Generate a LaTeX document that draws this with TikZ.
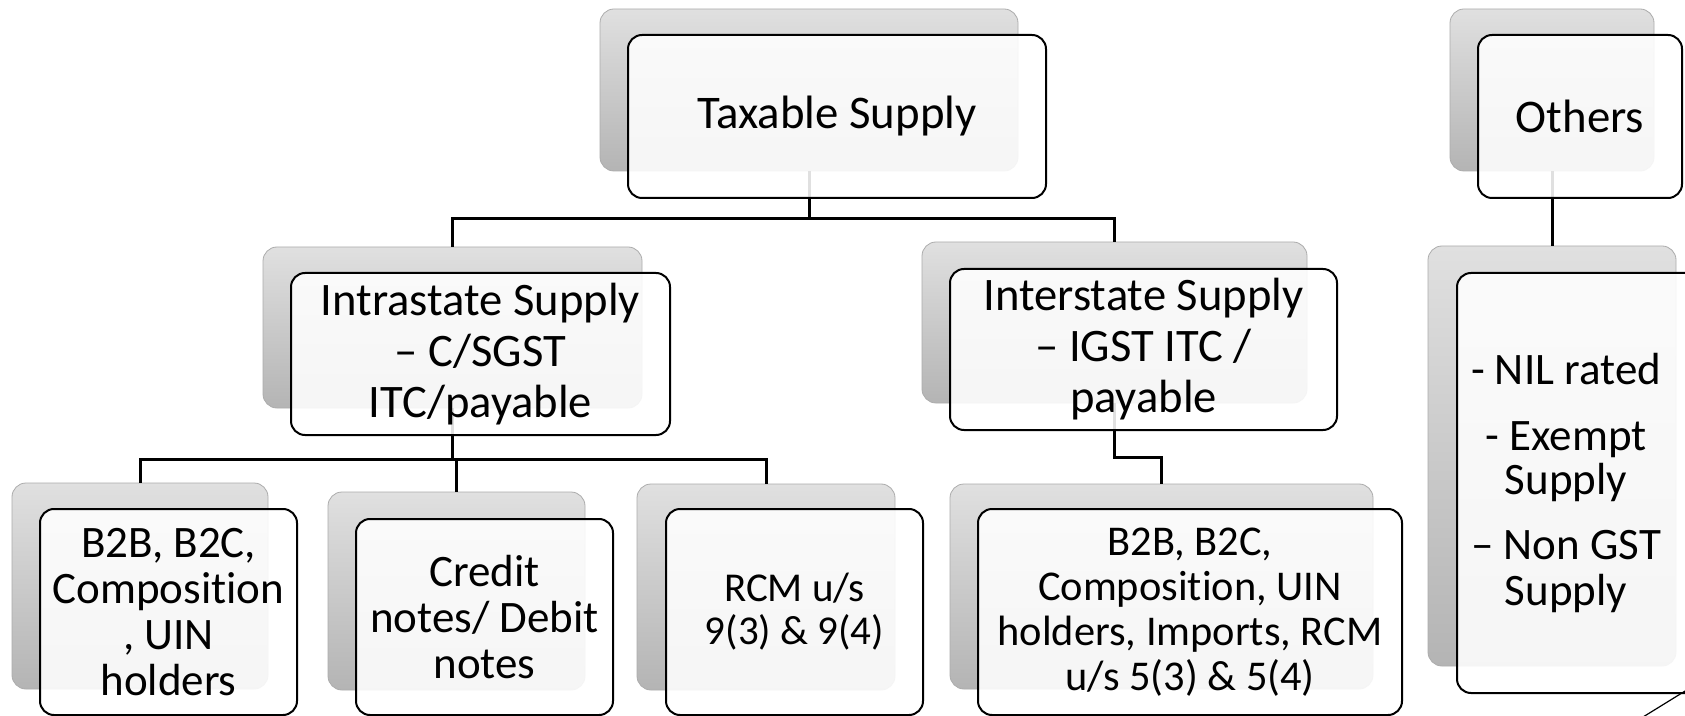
\documentclass[tikz,border=0pt]{standalone}
\usepackage{fontspec}
\setmainfont[Ligatures=NoCommon]{Carlito}
\usetikzlibrary{fit}
\definecolor{btop}{RGB}{224,224,224}
\definecolor{bbot}{RGB}{180,180,180}
\definecolor{bline}{RGB}{172,172,172}
\tikzset{
  backbox/.style={rectangle, rounded corners=7pt, draw=bline, line width=0.4pt,
    top color=btop, bottom color=bbot, inner sep=0pt},
  frontbox/.style={rectangle, rounded corners=7pt, draw=black, line width=1pt,
    fill=white, fill opacity=0.88, text opacity=1, inner sep=0pt, align=center,
    font=\fontsize{22.5}{23}\selectfont},
  toptext/.style={font=\fontsize{23.4}{25}\selectfont},
  bigtext/.style={font=\fontsize{23.3}{25.5}\selectfont},
  smalltext/.style={font=\fontsize{20.5}{21.5}\selectfont},
  midtext/.style={font=\fontsize{21.2}{22.5}\selectfont},
  plaintext/.style={inner sep=0pt, align=center, font=\fontsize{22.5}{22.5}\selectfont},
  conn/.style={draw=black, line width=1.5pt},
  thinline/.style={draw=black, line width=0.6pt},
}
\begin{document}
\begin{tikzpicture}[x=0.5pt, y=-0.5pt]
\path[use as bounding box, clip] (0,0) rectangle (1685,716);
\fill[white] (0,0) rectangle (1685,716);

% back boxes
\node[backbox, fit={(600,9) (1018,171)}] (tax-b) {};
\node[backbox, fit={(1450,9) (1654,171)}] (oth-b) {};
\node[backbox, fit={(263,247) (642,408)}] (intra-b) {};
\node[backbox, fit={(922,242) (1307,403)}] (inter-b) {};
\node[backbox, fit={(1428,246) (1676,666)}] (nil-b) {};
\node[backbox, fit={(12,483) (268,689)}] (b2bl-b) {};
\node[backbox, fit={(328,492) (585,690)}] (cred-b) {};
\node[backbox, fit={(637,484) (895,690)}] (rcm-b) {};
\node[backbox, fit={(950,484) (1373,689)}] (b2br-b) {};

% connectors
\draw[conn] (tax-b.south) -- ++(0,47) -| (intra-b.north);
\draw[conn] (tax-b.south) -- ++(0,47) -| (inter-b.north);
\draw[conn] (oth-b.south) -- (nil-b.north);
\draw[conn] (intra-b.south) -- ++(0,51) -| (b2bl-b.north);
\draw[conn] (intra-b.south) -- ++(0,51) -| (cred-b.north);
\draw[conn] (intra-b.south) -- ++(0,51) -| (rcm-b.north);
\draw[conn] (inter-b.south) -- ++(0,54) -| (b2br-b.north);

% front boxes
\node[frontbox, toptext, minimum width=209pt, minimum height=81.5pt] (tax-f)
  at (837,116.5) {Taxable Supply};
\node[frontbox, toptext, minimum width=102pt, minimum height=81.5pt] (oth-f)
  at (1580,116.5) {Others};
\node[frontbox, bigtext, minimum width=189.5pt, minimum height=81pt] (intra-f)
  at (480.5,354) {Intrastate Supply\\ – C/SGST\\ ITC/payable};
\node[frontbox, bigtext, minimum width=193.5pt, minimum height=80.5pt] (inter-f)
  at (1143.5,349.5) {Interstate Supply\\ – IGST ITC /\\ payable};
\node[frontbox, minimum width=124.5pt, minimum height=210pt] (nil-f)
  at (1581.5,483) {};
\node[frontbox, minimum width=128.5pt, minimum height=103pt] (b2bl-f)
  at (168.5,612) {B2B, B2C,\\ Composition\\ , UIN\\ holders};
\node[frontbox, minimum width=128.5pt, minimum height=98pt] (cred-f)
  at (484.5,617) {Credit\\ notes/ Debit\\ notes};
\node[frontbox, smalltext, minimum width=128.5pt, minimum height=103pt] (rcm-f)
  at (794.5,612) {RCM u/s\\ 9(3) \& 9(4)};
\node[frontbox, midtext, minimum width=212pt, minimum height=103pt] (b2br-f)
  at (1190,612) {B2B, B2C,\\ Composition, UIN\\ holders, Imports, RCM\\ u/s 5(3) \& 5(4)};
\node[plaintext] (nil-t) at (1566,483)
  {- NIL rated\\[10pt] - Exempt\\ Supply\\[10pt] – Non GST\\ Supply};

% stray line at bottom right
\coordinate (s1) at (1643,717);
\coordinate (s2) at (1690,688);
\draw[thinline] (s1) -- (s2);
\end{tikzpicture}
\end{document}
